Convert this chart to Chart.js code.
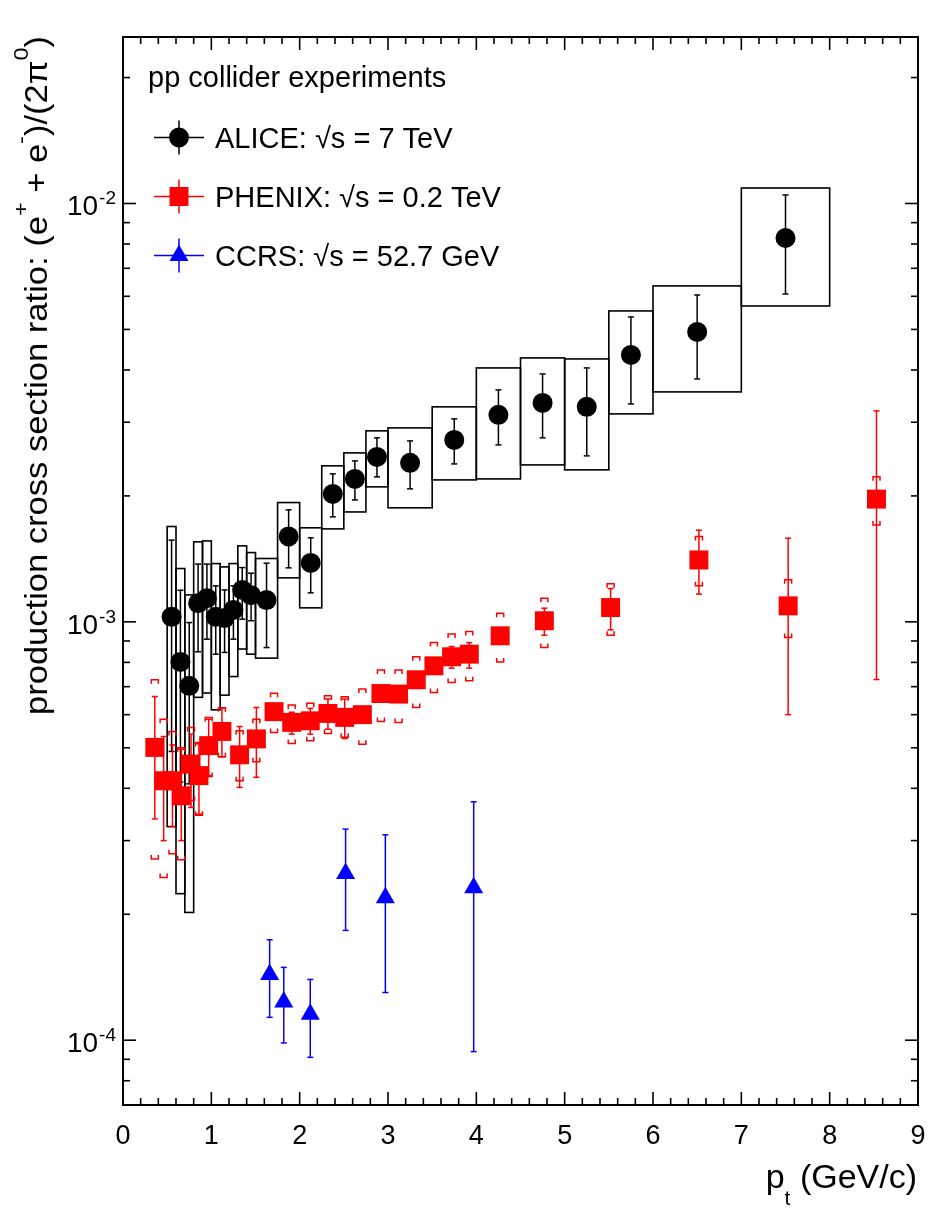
<!DOCTYPE html>
<html>
<head>
<meta charset="utf-8">
<script src="https://cdn.jsdelivr.net/npm/chart.js@4.4.1/dist/chart.umd.min.js"></script>
<style>html,body{margin:0;padding:0;background:#fff}canvas{display:block}</style>
</head>
<body>
<canvas id="c" width="950" height="1229"></canvas>
<script>
const FONT = '"Liberation Sans", Arial, Helvetica, sans-serif';

// ---------------- data ----------------
const seriesNames = ['ALICE: \u221As = 7 TeV', 'PHENIX: \u221As = 0.2 TeV', 'CCRS: \u221As = 52.7 GeV'];
const legendTitle = 'pp collider experiments';
const xTickValues = [0, 1, 2, 3, 4, 5, 6, 7, 8, 9];
const yTickDecades = [1e-4, 1e-3, 1e-2];
const yTickExponents = ['-4', '-3', '-2'];

// ALICE sqrt(s) = 7 TeV
const aliceX = [0.55,0.65,0.75,0.85,0.95,1.05,1.15,1.25,1.35,1.45,1.625,1.875,2.125,2.375,2.625,2.875,3.25,3.75,4.25,4.75,5.25,5.75,6.5,7.5];
const aliceBinLo = [0.5,0.6,0.7,0.8,0.9,1.0,1.1,1.2,1.3,1.4,1.5,1.75,2.0,2.25,2.5,2.75,3.0,3.5,4.0,4.5,5.0,5.5,6.0,7.0];
const aliceBinHi = [0.6,0.7,0.8,0.9,1.0,1.1,1.2,1.3,1.4,1.5,1.75,2.0,2.25,2.5,2.75,3.0,3.5,4.0,4.5,5.0,5.5,6.0,7.0,8.0];
const aliceY = [1.028e-3,8.02e-4,7.03e-4,1.108e-3,1.139e-3,1.028e-3,1.021e-3,1.068e-3,1.192e-3,1.158e-3,1.127e-3,1.60e-3,1.383e-3,2.022e-3,2.196e-3,2.479e-3,2.399e-3,2.722e-3,3.124e-3,3.337e-3,3.265e-3,4.345e-3,4.932e-3,8.27e-3];
const aliceStatHi = [1.568e-3,1.19e-3,9.96e-4,1.374e-3,1.374e-3,1.219e-3,1.192e-3,1.219e-3,1.348e-3,1.307e-3,1.381e-3,1.852e-3,1.588e-3,2.258e-3,2.425e-3,2.753e-3,2.707e-3,3.056e-3,3.584e-3,3.913e-3,4.045e-3,5.355e-3,6.044e-3,1.048e-2];
const aliceStatLo = [4.9e-4,4.14e-4,4.10e-4,8.48e-4,9.09e-4,8.37e-4,8.45e-4,9.09e-4,1.015e-3,1.006e-3,8.68e-4,1.346e-3,1.173e-3,1.782e-3,1.956e-3,2.221e-3,2.079e-3,2.385e-3,2.648e-3,2.753e-3,2.493e-3,3.318e-3,3.807e-3,6.077e-3];
const aliceSysHi = [1.690e-3,1.341e-3,1.160e-3,1.553e-3,1.561e-3,1.378e-3,1.353e-3,1.378e-3,1.519e-3,1.464e-3,1.417e-3,1.928e-3,1.678e-3,2.360e-3,2.534e-3,2.861e-3,2.908e-3,3.265e-3,4.045e-3,4.274e-3,4.250e-3,5.535e-3,6.352e-3,1.089e-2];
const aliceSysLo = [3.24e-4,2.24e-4,2.02e-4,6.60e-4,6.76e-4,6.16e-4,6.68e-4,7.40e-4,8.61e-4,8.37e-4,8.19e-4,1.274e-3,1.080e-3,1.668e-3,1.831e-3,2.102e-3,1.873e-3,2.184e-3,2.196e-3,2.372e-3,2.308e-3,3.141e-3,3.545e-3,5.689e-3];

// PHENIX sqrt(s) = 0.2 TeV
const phenixX = [0.36,0.46,0.56,0.66,0.77,0.86,0.97,1.12,1.32,1.51,1.71,1.91,2.12,2.32,2.51,2.71,2.92,3.12,3.32,3.52,3.72,3.92,4.27,4.77,5.52,6.52,7.53,8.53];
const phenixY = [5.01e-4,4.17e-4,4.17e-4,3.84e-4,4.57e-4,4.29e-4,5.06e-4,5.47e-4,4.81e-4,5.25e-4,6.10e-4,5.75e-4,5.80e-4,6.04e-4,5.91e-4,6.00e-4,6.74e-4,6.72e-4,7.27e-4,7.85e-4,8.25e-4,8.37e-4,9.26e-4,1.006e-3,1.082e-3,1.406e-3,1.092e-3,1.965e-3];
const phenixStatHi = [6.63e-4,5.32e-4,5.08e-4,4.96e-4,5.39e-4,5.11e-4,5.85e-4,6.22e-4,5.62e-4,6.24e-4,6.30e-4,6.08e-4,6.21e-4,6.54e-4,6.54e-4,6.10e-4,6.85e-4,6.83e-4,7.38e-4,7.97e-4,8.73e-4,8.92e-4,9.50e-4,1.078e-3,1.201e-3,1.656e-3,1.585e-3,3.193e-3];
const phenixStatLo = [3.38e-4,3.00e-4,3.24e-4,3.00e-4,3.60e-4,3.47e-4,4.29e-4,4.76e-4,4.02e-4,4.25e-4,5.90e-4,5.39e-4,5.39e-4,5.54e-4,5.26e-4,5.90e-4,6.64e-4,6.61e-4,7.16e-4,7.73e-4,7.75e-4,7.75e-4,9.00e-4,9.29e-4,9.57e-4,1.165e-3,6.00e-4,7.28e-4];
const phenixSysHi = [7.27e-4,5.85e-4,5.47e-4,5.00e-4,5.59e-4,5.15e-4,5.91e-4,6.23e-4,5.49e-4,5.85e-4,6.75e-4,6.33e-4,6.39e-4,6.66e-4,6.62e-4,6.91e-4,7.67e-4,7.67e-4,8.25e-4,8.92e-4,9.35e-4,9.48e-4,1.049e-3,1.139e-3,1.234e-3,1.599e-3,1.260e-3,2.221e-3];
const phenixSysLo = [2.71e-4,2.45e-4,2.79e-4,2.70e-4,3.74e-4,3.45e-4,4.27e-4,4.76e-4,4.17e-4,4.63e-4,5.44e-4,5.12e-4,5.20e-4,5.41e-4,5.30e-4,5.10e-4,5.78e-4,5.75e-4,6.24e-4,6.78e-4,7.16e-4,7.23e-4,8.02e-4,8.68e-4,9.29e-4,1.219e-3,9.17e-4,1.705e-3];

// CCRS sqrt(s) = 52.7 GeV
const ccrsX = [1.66,1.82,2.12,2.52,2.97,3.97];
const ccrsY = [1.436e-4,1.234e-4,1.153e-4,2.503e-4,2.19e-4,2.314e-4];
const ccrsHi = [1.738e-4,1.493e-4,1.397e-4,3.196e-4,3.097e-4,3.714e-4];
const ccrsLo = [1.134e-4,9.85e-5,9.10e-5,1.830e-4,1.30e-4,9.39e-5];

// ---------------- drawing helpers ----------------
function line(ctx, x1, y1, x2, y2) { ctx.beginPath(); ctx.moveTo(x1, y1); ctx.lineTo(x2, y2); ctx.stroke(); }
function errBar(ctx, px, pLo, pHi, cap) {
  line(ctx, px, pLo, px, pHi);
  line(ctx, px - cap, pLo, px + cap, pLo);
  line(ctx, px - cap, pHi, px + cap, pHi);
}
function bracket(ctx, px, py, dir, w, leg) {
  ctx.beginPath();
  ctx.moveTo(px - w, py + dir * leg); ctx.lineTo(px - w, py); ctx.lineTo(px + w, py); ctx.lineTo(px + w, py + dir * leg);
  ctx.stroke();
}
function runsWidth(ctx, runs, base) {
  let w = 0;
  for (const r of runs) { ctx.font = Math.round(base * (r.s || 1)) + 'px ' + FONT; r.w = ctx.measureText(r.t).width; w += r.w; }
  return w;
}
function drawRuns(ctx, runs, x, y, base) {
  let cx = x;
  ctx.textAlign = 'left'; ctx.textBaseline = 'alphabetic';
  for (const r of runs) {
    ctx.font = Math.round(base * (r.s || 1)) + 'px ' + FONT;
    ctx.fillText(r.t, cx, y + (r.dy || 0) * base);
    cx += r.w;
  }
}

const rootPlugin = {
  id: 'rootStyle',
  beforeDatasetsDraw(chart) {
    const { ctx, scales: { x, y } } = chart;
    ctx.save();
    ctx.lineCap = 'butt';
    // ALICE systematic boxes
    ctx.strokeStyle = '#000'; ctx.lineWidth = 1.6;
    for (let i = 0; i < aliceX.length; i++) {
      const x0 = x.getPixelForValue(aliceBinLo[i]), x1 = x.getPixelForValue(aliceBinHi[i]);
      const y0 = y.getPixelForValue(aliceSysHi[i]), y1 = y.getPixelForValue(aliceSysLo[i]);
      ctx.strokeRect(x0, y0, x1 - x0, y1 - y0);
    }
    // ALICE stat errors
    ctx.lineWidth = 1.5;
    for (let i = 0; i < aliceX.length; i++) {
      errBar(ctx, x.getPixelForValue(aliceX[i]), y.getPixelForValue(aliceStatLo[i]), y.getPixelForValue(aliceStatHi[i]), 3);
    }
    // PHENIX stat + sys brackets
    ctx.strokeStyle = '#ff0000'; ctx.lineWidth = 1.5;
    for (let i = 0; i < phenixX.length; i++) {
      const px = x.getPixelForValue(phenixX[i]);
      errBar(ctx, px, y.getPixelForValue(phenixStatLo[i]), y.getPixelForValue(phenixStatHi[i]), 3);
      bracket(ctx, px, y.getPixelForValue(phenixSysHi[i]), 1, 3.5, 4);
      bracket(ctx, px, y.getPixelForValue(phenixSysLo[i]), -1, 3.5, 4);
    }
    // CCRS errors
    ctx.strokeStyle = '#0000ff';
    for (let i = 0; i < ccrsX.length; i++) {
      errBar(ctx, x.getPixelForValue(ccrsX[i]), y.getPixelForValue(ccrsLo[i]), y.getPixelForValue(ccrsHi[i]), 3);
    }
    ctx.restore();
  },
  afterDraw(chart) {
    const { ctx, chartArea: a, scales: { x, y } } = chart;
    ctx.save();
    ctx.strokeStyle = '#000'; ctx.fillStyle = '#000';
    // frame
    ctx.lineWidth = 2;
    ctx.strokeRect(a.left, a.top, a.right - a.left, a.bottom - a.top);
    // x ticks (bottom and top, inward)
    ctx.lineWidth = 1.6;
    for (let k = 0; k <= 45; k++) {
      const v = k * 0.2;
      const px = x.getPixelForValue(v);
      const len = (k % 5 === 0) ? 13 : 7;
      line(ctx, px, a.bottom, px, a.bottom - len);
      line(ctx, px, a.top, px, a.top + len);
    }
    // y ticks (left and right, inward)
    for (let d = -5; d <= -1; d++) {
      for (let m = 1; m <= 9; m++) {
        const v = m * Math.pow(10, d);
        if (v < y.min * 1.0001 || v > y.max * 0.9999) continue;
        const py = y.getPixelForValue(v);
        const len = m === 1 ? 13 : 7;
        line(ctx, a.left, py, a.left + len, py);
        line(ctx, a.right, py, a.right - len, py);
      }
    }
    // y tick labels 10^n
    for (let i = 0; i < yTickDecades.length; i++) {
      const py = y.getPixelForValue(yTickDecades[i]);
      ctx.textAlign = 'right'; ctx.textBaseline = 'alphabetic';
      ctx.font = '19px ' + FONT;
      const supW = ctx.measureText(yTickExponents[i]).width;
      ctx.fillText(yTickExponents[i], a.left - 7, py + 1);
      ctx.font = '28px ' + FONT;
      ctx.fillText('10', a.left - 8 - supW, py + 12);
    }
    // x title
    const xRuns = [{ t: 'p' }, { t: 't', s: 0.64, dy: 0.5 }, { t: ' (GeV/c)' }];
    const xw = runsWidth(ctx, xRuns, 33.5);
    drawRuns(ctx, xRuns, a.right - 1 - xw, 1188, 33.5);
    // y title (rotated)
    const yRuns = [
      { t: 'production cross section ratio: (e' },
      { t: '+', s: 0.67, dy: -0.62 },
      { t: ' + e' },
      { t: '-', s: 0.67, dy: -0.62 },
      { t: ')/(2\u03C0' },
      { t: '0', s: 0.67, dy: -0.62 },
      { t: ')' }
    ];
    const yw = runsWidth(ctx, yRuns, 31);
    const targetLen = 715 - 36;
    ctx.save();
    ctx.translate(47, 715);
    ctx.rotate(-Math.PI / 2);
    ctx.scale(targetLen / yw, 1);
    drawRuns(ctx, yRuns, 0, 0, 31);
    ctx.restore();
    // legend
    ctx.font = '29px ' + FONT; ctx.textAlign = 'left'; ctx.textBaseline = 'alphabetic'; ctx.fillStyle = '#000';
    ctx.fillText(legendTitle, 148, 87);
    const colors = ['#000000', '#ff0000', '#0000ff'];
    const mys = [137.5, 196.5, 255.5];
    const bases = [148, 207, 266];
    for (let i = 0; i < 3; i++) {
      const mx = 179, my = mys[i];
      ctx.strokeStyle = colors[i]; ctx.fillStyle = colors[i]; ctx.lineWidth = 1.5;
      line(ctx, 154, my, 204, my);
      line(ctx, mx, my - 17, mx, my + 17);
      ctx.beginPath();
      if (i === 0) { ctx.arc(mx, my, 10, 0, Math.PI * 2); }
      else if (i === 1) { ctx.rect(mx - 9.5, my - 9.5, 19, 19); }
      else { ctx.moveTo(mx, my - 11); ctx.lineTo(mx + 9.5, my + 5.5); ctx.lineTo(mx - 9.5, my + 5.5); ctx.closePath(); }
      ctx.fill();
      ctx.fillStyle = '#000';
      ctx.font = '29px ' + FONT;
      ctx.fillText(seriesNames[i], 215, bases[i]);
    }
    ctx.restore();
  }
};

Chart.defaults.font.family = FONT;

new Chart(document.getElementById('c'), {
  type: 'scatter',
  data: {
    datasets: [
      { label: seriesNames[0], data: aliceX.map((v, i) => ({ x: v, y: aliceY[i] })), pointStyle: 'circle', pointRadius: 10, backgroundColor: '#000000', borderColor: '#000000', borderWidth: 0, order: 3 },
      { label: seriesNames[1], data: phenixX.map((v, i) => ({ x: v, y: phenixY[i] })), pointStyle: 'rect', pointRadius: 13.4, backgroundColor: '#ff0000', borderColor: '#ff0000', borderWidth: 0, order: 2 },
      { label: seriesNames[2], data: ccrsX.map((v, i) => ({ x: v, y: ccrsY[i] })), pointStyle: 'triangle', pointRadius: 11, backgroundColor: '#0000ff', borderColor: '#0000ff', borderWidth: 0, order: 1 }
    ]
  },
  options: {
    responsive: false,
    animation: false,
    events: [],
    layout: { padding: { top: 37, right: 32, left: 0, bottom: 0 } },
    plugins: { legend: { display: false }, tooltip: { enabled: false } },
    scales: {
      x: {
        type: 'linear', min: 0, max: 9,
        grid: { display: false, drawTicks: false },
        border: { display: false },
        afterBuildTicks(s) { s.ticks = xTickValues.map(v => ({ value: v })); },
        ticks: { font: { size: 27, family: FONT }, color: '#000', padding: 15, maxRotation: 0, autoSkip: false, callback: v => String(v) },
        afterFit(s) { s.height = 124; }
      },
      y: {
        type: 'logarithmic', min: 7e-5, max: 0.025,
        grid: { display: false, drawTicks: false },
        border: { display: false },
        ticks: { display: false },
        afterFit(s) { s.width = 123; }
      }
    }
  },
  plugins: [rootPlugin]
});
</script>
</body>
</html>
